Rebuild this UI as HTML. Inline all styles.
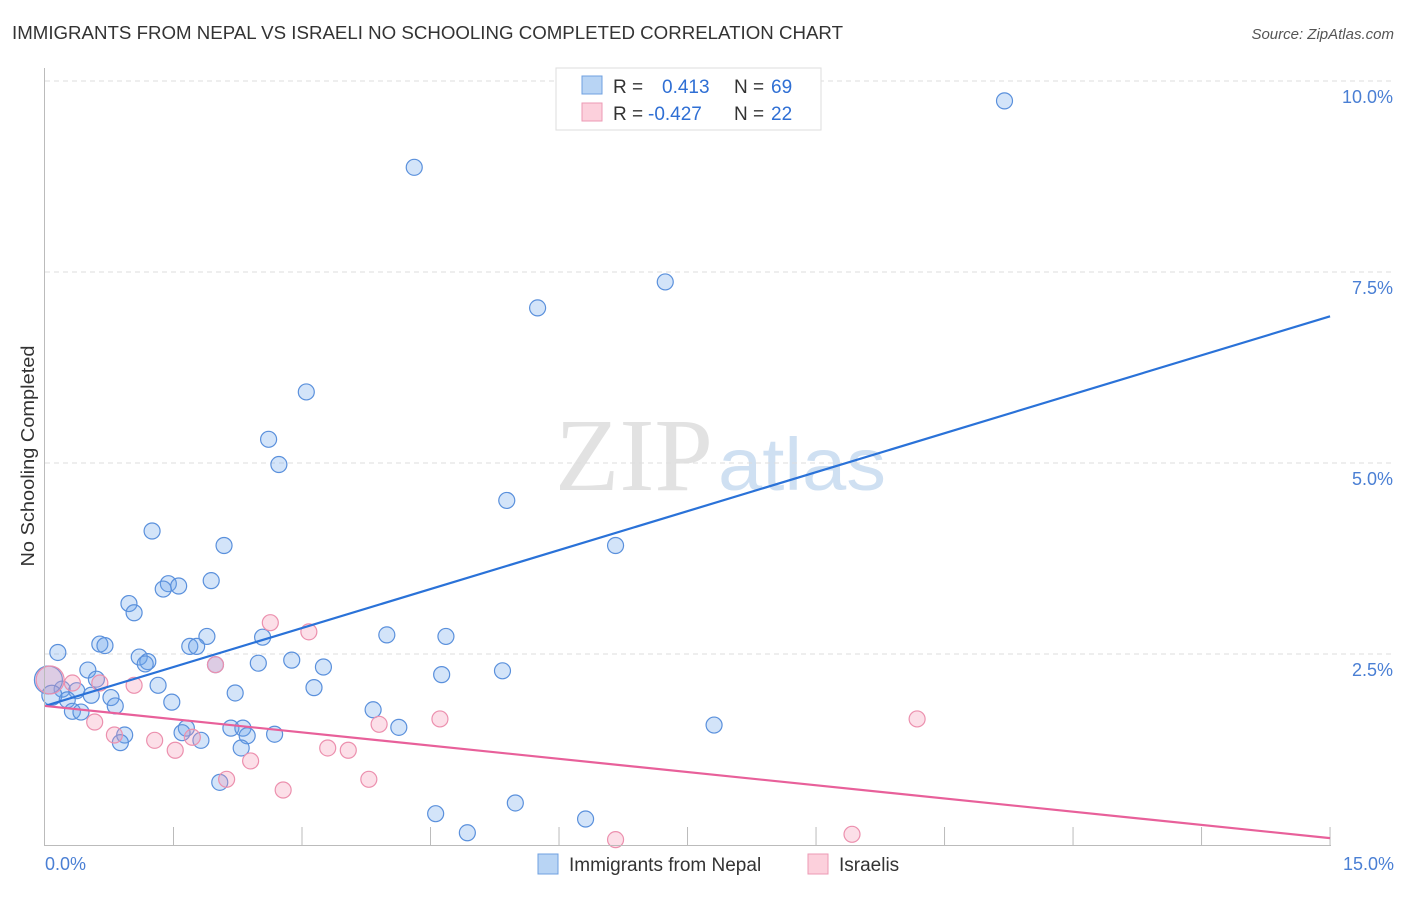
<!DOCTYPE html>
<html><head><meta charset="utf-8"><style>
body{margin:0;background:#fff;font-family:"Liberation Sans",sans-serif;}
</style></head><body>
<svg width="1406" height="892" xmlns="http://www.w3.org/2000/svg" id="svg">
<text x="12" y="39" font-size="18" fill="#333" textLength="831" lengthAdjust="spacingAndGlyphs">IMMIGRANTS FROM NEPAL VS ISRAELI NO SCHOOLING COMPLETED CORRELATION CHART</text>
<text x="1394" y="39" font-size="15" fill="#555" font-style="italic" text-anchor="end">Source: ZipAtlas.com</text>
<text x="555" y="490" font-size="104" fill="#e2e2e2" textLength="158" lengthAdjust="spacingAndGlyphs" font-family="Liberation Serif,serif">ZIP</text>
<text x="718" y="490" font-size="74" fill="#cfe0f2" textLength="168" lengthAdjust="spacingAndGlyphs">atlas</text>
<text transform="translate(34,456) rotate(-90)" font-size="18" fill="#333" text-anchor="middle" textLength="221" lengthAdjust="spacingAndGlyphs">No Schooling Completed</text>
<g id="grid"></g><g id="pts"></g><g id="lines"></g>
<line x1="44.5" y1="68" x2="44.5" y2="845" stroke="#bbb"/>
<line x1="44" y1="845.5" x2="1331" y2="845.5" stroke="#bbb"/>
<text x="45" y="870" font-size="18" fill="#4a7fd4">0.0%</text>
<text x="1394" y="870" font-size="18" fill="#4a7fd4" text-anchor="end">15.0%</text>
<g>
<rect x="556" y="68" width="265" height="62" fill="#fff" stroke="#ddd"/>
<rect x="582" y="76" width="20" height="18" fill="#b8d4f4" stroke="#6fa0e0"/>
<rect x="582" y="103" width="20" height="18" fill="#fcd0dc" stroke="#ec9ab4"/>
<text x="613" y="93" font-size="19" fill="#333">R = <tspan x="662" fill="#2f6fd4">0.413</tspan><tspan x="734">N = </tspan><tspan x="771" fill="#2f6fd4">69</tspan></text>
<text x="613" y="120" font-size="19" fill="#333">R = <tspan x="648" fill="#2f6fd4">-0.427</tspan><tspan x="734">N = </tspan><tspan x="771" fill="#2f6fd4">22</tspan></text>
</g>
<g>
<rect x="538" y="854" width="20" height="20" fill="#b8d4f4" stroke="#6fa0e0"/>
<text x="569" y="871" font-size="19" fill="#333">Immigrants from Nepal</text>
<rect x="808" y="854" width="20" height="20" fill="#fcd0dc" stroke="#ec9ab4"/>
<text x="839" y="871" font-size="19" fill="#333">Israelis</text>
</g>
</svg>
<script>
const yTicks=[2.5,5,7.5,10];
const yTickLabels=["2.5%","5.0%","7.5%","10.0%"];
const xTicks=[1.5,3,4.5,6,7.5,9,10.5,12,13.5,15];
const nepalX=[11.2,4.31,7.24,5.75,3.05,2.61,2.73,5.39,1.25,6.66,2.09,1.44,1.56,1.38,1.94,0.98,1.04,0.64,0.7,1.89,1.69,1.77,2.54,3.99,4.68,1.1,1.2,1.17,0.15,2.88,2.49,3.25,1.99,4.63,5.34,0.5,0.6,1.32,3.14,0.2,0.37,0.54,0.77,2.22,0.26,0.82,1.48,3.83,0.32,0.42,4.13,7.81,1.65,2.17,2.31,1.6,2.68,2.36,1.82,0.93,0.88,2.29,2.04,4.56,5.49,4.93,6.31,0.04,0.08];
const nepalY=[9.74,8.87,7.37,7.03,5.93,5.31,4.98,4.51,4.11,3.92,3.92,3.42,3.39,3.35,3.46,3.16,3.04,2.63,2.61,2.73,2.6,2.6,2.72,2.75,2.73,2.46,2.4,2.37,2.52,2.42,2.38,2.33,2.36,2.23,2.28,2.29,2.17,2.09,2.06,2.04,2.02,1.96,1.93,1.99,1.9,1.82,1.87,1.77,1.75,1.74,1.54,1.57,1.53,1.53,1.53,1.47,1.45,1.43,1.37,1.44,1.34,1.27,0.82,0.41,0.55,0.16,0.34,2.16,1.96];
const isrX=[0.06,0.32,0.64,0.58,1.04,0.81,1.28,1.52,1.72,1.99,2.12,2.4,2.63,2.78,3.08,3.3,3.54,3.9,3.78,4.61,6.66,9.42,10.18];
const isrY=[2.16,2.12,2.12,1.61,2.09,1.44,1.37,1.24,1.41,2.36,0.86,1.1,2.91,0.72,2.79,1.27,1.24,1.58,0.86,1.65,0.07,0.14,1.65];
const nepalLine=[1.82,6.92];
const isrLine=[1.82,0.09];
const X=v=>45+v*85.67, Y=v=>845-v*76.4;
const NS="http://www.w3.org/2000/svg";
function mk(t,a,p){const e=document.createElementNS(NS,t);for(const k in a)e.setAttribute(k,a[k]);p.appendChild(e);return e;}
const grid=document.getElementById('grid');
yTicks.forEach((t,i)=>{
 const l=mk('line',{x1:45,x2:1395,y1:Y(t),y2:Y(t),stroke:'#ddd','stroke-dasharray':'5,4'},grid);
 
 
 const tx=mk('text',{x:1393,y:Y(t)+22,'font-size':18,fill:'#4a7fd4','text-anchor':'end'},grid);
 tx.textContent=yTickLabels[i];
 
 
});
xTicks.forEach(t=>{
 const l=mk('line',{x1:X(t),x2:X(t),y1:827,y2:845,stroke:'#bbb'},grid);
 
 
});
const pts=document.getElementById('pts');
nepalX.forEach((x,i)=>{
 const c=mk('circle',{cx:X(x),cy:Y(nepalY[i]),r:i==67?14:(i==68?10:8),fill:'rgba(110,165,235,0.3)',stroke:'#5a90dc','stroke-width':1.2},pts);
 
 
});
isrX.forEach((x,i)=>{
 const c=mk('circle',{cx:X(x),cy:Y(isrY[i]),r:i==0?14:8,fill:'rgba(245,150,180,0.3)',stroke:'#ec90ae','stroke-width':1.2},pts);
 
 
});
const lines=document.getElementById('lines');
const bl=mk('line',{x1:X(0),y1:Y(nepalLine[0]),x2:X(15),y2:Y(nepalLine[1]),stroke:'#2a72d8','stroke-width':2.2},lines);


const pl=mk('line',{x1:X(0),y1:Y(isrLine[0]),x2:X(15),y2:Y(isrLine[1]),stroke:'#e8609a','stroke-width':2.2},lines);


</script>
</body></html>
